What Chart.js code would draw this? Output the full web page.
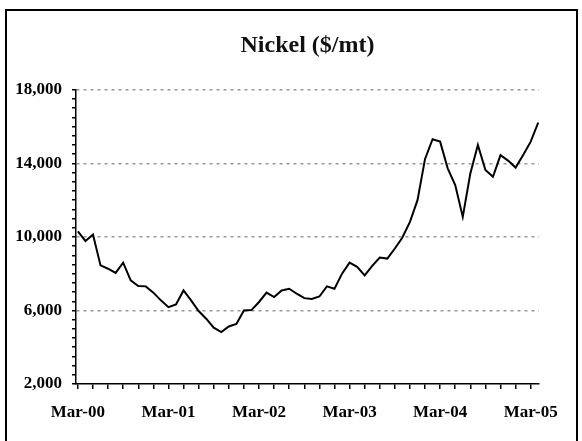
<!DOCTYPE html>
<html>
<head>
<meta charset="utf-8">
<script src="https://cdn.jsdelivr.net/npm/chart.js@4/dist/chart.umd.min.js"></script>
<style>
  html, body { margin: 0; padding: 0; background: #fff; }
  #wrap { position: relative; width: 582px; height: 441px; overflow: hidden; }
  #frame { position: absolute; left: 5px; top: 9px; width: 569px; height: 440px; border: 2px solid #000; }
  #nickelChart { position: absolute; left: 0; top: 0; }
</style>
</head>
<body>
<div id="wrap">
  <div id="frame"></div>
  <canvas id="nickelChart" width="582" height="441"></canvas>
</div>
<script>
// monthly nickel price, Mar-00 .. Apr-05 ($/mt)
const nickelPrices = [
  10300, 9780, 10130, 8450, 8270, 8040, 8600, 7640, 7330, 7310,
  6970, 6550, 6180, 6330, 7090, 6550, 5970, 5550, 5060, 4820,
  5130, 5270, 6000, 6020, 6460, 6970, 6730, 7090, 7180, 6910,
  6670, 6620, 6760, 7310, 7180, 8000, 8600, 8370, 7910, 8420,
  8880, 8820, 9370, 9970, 10820, 12000, 14240, 15310, 15180, 13730,
  12820, 11090, 13450, 15000, 13640, 13270, 14450, 14150, 13770, 14450,
  15180, 16220
];
const yearLabels = ["Mar-00", "Mar-01", "Mar-02", "Mar-03", "Mar-04", "Mar-05"];
const yTicks = [];
for (let v = 2000; v <= 18000; v += 500) yTicks.push(v);
const xTicks = [];
for (let m = 0; m <= 60; m += 2) xTicks.push(m);

const serif = "'Liberation Serif', 'Times New Roman', serif";

const ctx = document.getElementById("nickelChart").getContext("2d");
new Chart(ctx, {
  type: "line",
  data: {
    datasets: [
      {
        label: "Nickel",
        data: nickelPrices.map((v, i) => ({ x: i, y: v })),
        borderColor: "#000",
        borderWidth: 2,
        pointRadius: 0,
        tension: 0,
        fill: false,
      },
    ],
  },
  options: {
    responsive: false,
    animation: false,
    layout: { padding: { left: 0, right: 43, top: 0, bottom: 0 } },
    plugins: {
      legend: { display: false },
      tooltip: { enabled: false },
      title: {
        display: true,
        text: "Nickel ($/mt)",
        fullSize: false,
        color: "#111",
        font: { family: serif, size: 24, weight: "bold" },
        padding: { top: 31, bottom: 30 },
      },
    },
    scales: {
      x: {
        type: "linear",
        min: -0.25,
        max: 61.1,
        afterBuildTicks: (scale) => {
          scale.ticks = xTicks.map((v) => ({ value: v }));
        },
        afterFit: (scale) => {
          scale.height = 57;
        },
        ticks: {
          autoSkip: false,
          maxRotation: 0,
          padding: 13,
          color: "#000",
          font: { family: serif, size: 17, weight: "bold" },
          callback: (value) => (value % 12 === 0 ? yearLabels[value / 12] : ""),
        },
        grid: {
          drawOnChartArea: false,
          color: "#000",
          lineWidth: 1.5,
          tickLength: 5,
        },
        border: { color: "#000", width: 1.5 },
      },
      y: {
        min: 2000,
        max: 18000,
        afterBuildTicks: (scale) => {
          scale.ticks = yTicks.map((v) => ({ value: v }));
        },
        afterFit: (scale) => {
          scale.width = 76;
        },
        ticks: {
          autoSkip: false,
          padding: 10,
          color: "#000",
          font: { family: serif, size: 17, weight: "bold" },
          callback: (value) =>
            (value - 2000) % 4000 === 0 ? value.toLocaleString("en-US") : "",
        },
        grid: {
          color: (c) =>
            c.tick && c.tick.value > 2000 && (c.tick.value - 2000) % 4000 === 0
              ? "#999"
              : "rgba(0,0,0,0)",
          lineWidth: 1.5,
          tickColor: "#000",
          tickWidth: 1.5,
          tickLength: 4,
          tickBorderDash: [],
        },
        border: { color: "#000", width: 1.5, dash: [3, 4] },
      },
    },
  },
});
</script>
</body>
</html>
